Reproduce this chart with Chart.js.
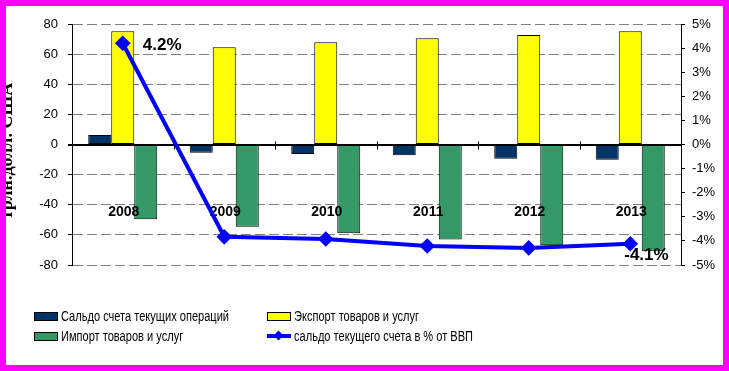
<!DOCTYPE html>
<html>
<head>
<meta charset="utf-8">
<script src="https://cdn.jsdelivr.net/npm/chart.js@4.4.1/dist/chart.umd.min.js"></script>
<style>
    html, body { margin: 0; padding: 0; background: #fff; }
    #wrap { position: relative; width: 729px; height: 371px; overflow: hidden; }
    #frame {
        position: absolute; left: 0; top: 0; width: 729px; height: 371px;
        box-sizing: border-box; border: 6px solid #ff00ff; pointer-events: none;
    }
    .leg {
        position: absolute; font-family: 'Liberation Sans', Arial, sans-serif;
        font-size: 14px; color: #000; white-space: nowrap; line-height: 16px;
        transform: scaleX(0.79); transform-origin: left center;
    }
    .box {
        position: absolute; width: 22px; height: 7px; border: 1px solid #000;
    }
</style>
</head>
<body>
<div id="wrap">
    <canvas id="myChart" width="729" height="371"></canvas>
    <div id="legend"></div>
    <div id="frame"></div>
</div>
<script>
// -------------------------------------------------------------------------- Data

const years = ['2008', '2009', '2010', '2011', '2012', '2013']
const saldo = [6.3, -5.4, -6.3, -7.2, -9.4, -10.1]
const exportData = [75.2, 64.5, 67.9, 70.5, 72.7, 75.2]
const importData = [-49.7, -54.6, -59, -63, -66.9, -70.9]
const saldoPct = [4.2, -3.83, -3.92, -4.21, -4.29, -4.12]

const names = [
    'Сальдо счета текущих операций',
    'Экспорт товаров и услуг',
    'Импорт товаров и услуг',
    'сальдо текущего счета в % от ВВП'
]
const yTitle = 'трлн.долл. США'

let navy = '#003366'
let yellow = '#ffff00'
let green = '#339966'
let blue = '#0000ff'

Chart.defaults.font.family = "'Liberation Sans', Arial, sans-serif"
Chart.defaults.color = '#000'
Chart.defaults.animation = false

// -------------------------------------------------------------------------- Extras plugin

const extras = {
    id: 'extras',
    beforeDatasetsDraw(chart) {
        const ctx = chart.ctx
        const x = chart.scales.x
        const y = chart.scales.y
        const area = chart.chartArea
        const y0 = Math.round(y.getPixelForValue(0)) + 0.5
        ctx.save()
        ctx.strokeStyle = '#000'
        ctx.lineWidth = 1
        ctx.setLineDash([])
        ctx.beginPath()
        ctx.moveTo(area.left - 4, y0)
        ctx.lineTo(area.right, y0)
        // small ticks between categories
        for (let i = 1; i < years.length; i++) {
            let bx = Math.round((x.getPixelForValue(i - 1) + x.getPixelForValue(i)) / 2) + 0.5
            ctx.moveTo(bx, y0 - 4)
            ctx.lineTo(bx, y0 + 4)
        }
        ctx.stroke()
        ctx.restore()
    },
    beforeDatasetDraw(chart, args) {
        if (args.meta.type !== 'line') return
        const ctx = chart.ctx
        const x = chart.scales.x
        const y = chart.scales.y
        ctx.save()
        ctx.font = "bold 14px 'Liberation Sans', Arial"
        ctx.fillStyle = '#000'
        ctx.textAlign = 'center'
        ctx.textBaseline = 'middle'
        years.forEach((yr, i) => {
            ctx.fillText(yr, x.getPixelForValue(i) + 1, y.getPixelForValue(-44) + 1)
        })
        ctx.restore()
    },
    afterDraw(chart) {
        const ctx = chart.ctx
        const meta = chart.getDatasetMeta(3)
        ctx.save()
        ctx.font = "bold 17px 'Liberation Sans', Arial"
        ctx.fillStyle = '#000'
        ctx.textBaseline = 'middle'
        ctx.textAlign = 'left'
        let first = meta.data[0]
        ctx.fillText(saldoPct[0].toFixed(1) + '%', first.x + 20, first.y + 2)
        let last = meta.data[saldoPct.length - 1]
        ctx.fillText(saldoPct[saldoPct.length - 1].toFixed(1) + '%', last.x - 6, last.y + 12)

        // y axis title, partly hidden behind the frame
        ctx.translate(12, 151)
        ctx.rotate(-Math.PI / 2)
        ctx.font = "bold 18px 'Liberation Serif', 'Times New Roman', serif"
        ctx.textAlign = 'center'
        ctx.textBaseline = 'alphabetic'
        ctx.fillText(yTitle, 0, 0)
        ctx.restore()
    }
}

// -------------------------------------------------------------------------- Chart config

const config = {
    type: 'bar',
    data: {
        labels: years,
        datasets: [{
            label: names[0],
            data: saldo,
            backgroundColor: navy,
            borderColor: '#000',
            borderWidth: 1,
            borderSkipped: false,
            order: 1
        }, {
            label: names[1],
            data: exportData,
            backgroundColor: yellow,
            borderColor: '#000',
            borderWidth: 1,
            borderSkipped: false,
            order: 1
        }, {
            label: names[2],
            data: importData,
            backgroundColor: green,
            borderColor: '#000',
            borderWidth: 1,
            borderSkipped: false,
            order: 1
        }, {
            type: 'line',
            label: names[3],
            data: saldoPct,
            yAxisID: 'y1',
            borderColor: blue,
            backgroundColor: blue,
            borderWidth: 4,
            pointStyle: 'rectRot',
            pointRadius: 5,
            tension: 0,
            order: 0
        }]
    },
    options: {
        responsive: false,
        devicePixelRatio: 1,
        datasets: {
            bar: { barPercentage: 1, categoryPercentage: 0.68 }
        },
        layout: {
            padding: { left: 0, right: 0, top: 24, bottom: 106 }
        },
        plugins: {
            legend: { display: false },
            tooltip: { enabled: false }
        },
        scales: {
            x: { display: false },
            y: {
                position: 'left',
                min: -80,
                max: 80,
                afterFit: s => { s.width = 72 },
                ticks: {
                    stepSize: 20,
                    padding: 10,
                    font: { size: 13 }
                },
                grid: {
                    color: c => c.tick && c.tick.value === 0 ? '#000' : '#808080',
                    tickColor: '#000',
                    tickLength: 4
                },
                border: {
                    color: '#000',
                    dash: c => c.tick && c.tick.value === 0 ? [] : [10, 4]
                }
            },
            y1: {
                position: 'right',
                min: -5,
                max: 5,
                afterFit: s => { s.width = 48 },
                ticks: {
                    stepSize: 1,
                    padding: 7,
                    font: { size: 13 },
                    callback: v => v + '%'
                },
                grid: {
                    drawOnChartArea: false,
                    tickColor: '#000',
                    tickLength: 4
                },
                border: { color: '#000' }
            }
        }
    },
    plugins: [extras]
}

let myChart = new Chart(document.getElementById('myChart'), config)

// -------------------------------------------------------------------------- HTML legend

const legendSpots = [
    { left: 34, top: 308 },
    { left: 267, top: 308 },
    { left: 34, top: 328 },
    { left: 267, top: 328 }
]
const legendColors = [navy, yellow, green, blue]
const legend = document.getElementById('legend')
names.forEach((name, i) => {
    let spot = legendSpots[i]
    let marker
    if (i === 3) {
        marker = '<div style="position:absolute;left:' + spot.left + 'px;top:' + (spot.top + 6) + 'px;width:24px;height:4px;background:' + blue + '"></div>' +
            '<div style="position:absolute;left:' + (spot.left + 8) + 'px;top:' + (spot.top + 4) + 'px;width:7px;height:7px;background:' + blue + ';transform:rotate(45deg)"></div>'
    } else {
        marker = '<div class="box" style="left:' + spot.left + 'px;top:' + (spot.top + 4) + 'px;background:' + legendColors[i] + '"></div>'
    }
    legend.innerHTML += marker +
        '<div class="leg" style="left:' + (spot.left + 27) + 'px;top:' + spot.top + 'px">' + name + '</div>'
})
</script>
</body>
</html>
